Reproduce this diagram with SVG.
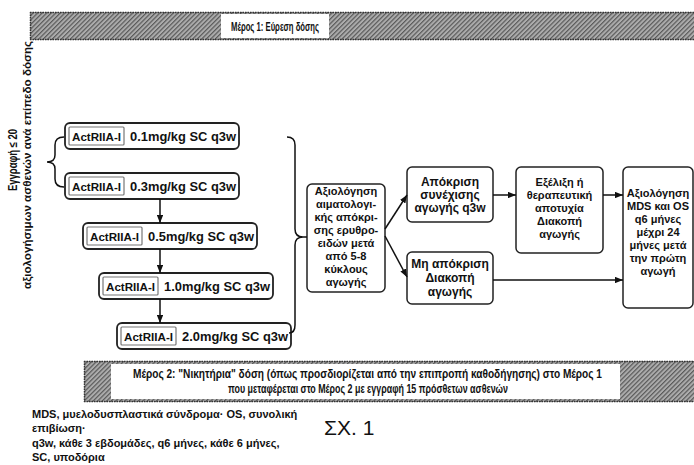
<svg xmlns="http://www.w3.org/2000/svg" width="694" height="465" viewBox="0 0 694 465">
<style>
text{font-family:"Liberation Sans",Arial,sans-serif;font-weight:bold;fill:#111}
.box{fill:#fff;stroke:#222;stroke-width:1.5}
.dose{fill:#fff;stroke:#222;stroke-width:1.8}
.tag{fill:#fff;stroke:#777;stroke-width:1.2}
.c{text-anchor:middle}
.t11{font-size:11px}
.t12{font-size:12px}
.line{stroke:#111;stroke-width:1.5;fill:none}
.edge{stroke:#333;stroke-width:1.5;stroke-dasharray:1.5 1;fill:none}
</style>
<defs>
<pattern id="hatch" width="3.2" height="3.2" patternUnits="userSpaceOnUse" patternTransform="rotate(45)">
<rect width="3.2" height="3.2" fill="#acacac"/>
<line x1="0.6" y1="0" x2="0.6" y2="3.2" stroke="#5a5a5a" stroke-width="1.2"/>
</pattern>
<marker id="ah" viewBox="0 0 10 8" refX="10" refY="4" markerWidth="8" markerHeight="6.4" markerUnits="userSpaceOnUse" orient="auto">
<path d="M0,0 L10,4 L0,8 z" fill="#111"/>
</marker>
</defs>
<rect width="694" height="465" fill="#fff"/>

<g id="banner1">
<rect x="30" y="12" width="670" height="28" fill="url(#hatch)"/>
<path class="edge" d="M30,12.5 H694 M30,39.5 H694 M30.5,12 V40"/>
<rect x="221" y="14" width="108" height="24" fill="#fff"/>
<text x="275" y="30.5" class="c" style="font-size:12.5px" textLength="88" lengthAdjust="spacingAndGlyphs">Μέρος 1: Εύρεση δόσης</text>
</g>

<g id="enrollment">
<text transform="translate(17,160) rotate(-90)" class="c t12" textLength="62" lengthAdjust="spacingAndGlyphs">Εγγραφή ≤ 20</text>
<text transform="translate(31,165) rotate(-90)" class="c t11" textLength="248" lengthAdjust="spacingAndGlyphs">αξιολογήσιμων ασθενών ανά επίπεδο δόσης</text>
</g>

<g id="dose1">
<rect class="dose" x="65" y="123" width="174" height="26" rx="5"/>
<rect class="tag" x="69" y="127" width="55" height="18" rx="1"/>
<text x="96.5" y="140.5" class="c t11" textLength="49" lengthAdjust="spacingAndGlyphs">ActRIIA-I</text>
<text x="130" y="141" style="font-size:13px" textLength="106" lengthAdjust="spacingAndGlyphs">0.1mg/kg SC q3w</text>
</g>
<g id="dose2">
<rect class="dose" x="65" y="173" width="174" height="26" rx="5"/>
<rect class="tag" x="69" y="177" width="55" height="18" rx="1"/>
<text x="96.5" y="190.5" class="c t11" textLength="49" lengthAdjust="spacingAndGlyphs">ActRIIA-I</text>
<text x="130" y="191" style="font-size:13px" textLength="106" lengthAdjust="spacingAndGlyphs">0.3mg/kg SC q3w</text>
</g>
<g id="dose3">
<rect class="dose" x="83" y="223" width="174" height="26" rx="5"/>
<rect class="tag" x="87" y="227" width="55" height="18" rx="1"/>
<text x="114.5" y="240.5" class="c t11" textLength="49" lengthAdjust="spacingAndGlyphs">ActRIIA-I</text>
<text x="148" y="241" style="font-size:13px" textLength="106" lengthAdjust="spacingAndGlyphs">0.5mg/kg SC q3w</text>
</g>
<g id="dose4">
<rect class="dose" x="99" y="273" width="174" height="26" rx="5"/>
<rect class="tag" x="103" y="277" width="55" height="18" rx="1"/>
<text x="130.5" y="290.5" class="c t11" textLength="49" lengthAdjust="spacingAndGlyphs">ActRIIA-I</text>
<text x="164" y="291" style="font-size:13px" textLength="106" lengthAdjust="spacingAndGlyphs">1.0mg/kg SC q3w</text>
</g>
<g id="dose5">
<rect class="dose" x="117" y="323" width="174" height="26" rx="5"/>
<rect class="tag" x="121" y="327" width="55" height="18" rx="1"/>
<text x="148.5" y="340.5" class="c t11" textLength="49" lengthAdjust="spacingAndGlyphs">ActRIIA-I</text>
<text x="182" y="341" style="font-size:13px" textLength="106" lengthAdjust="spacingAndGlyphs">2.0mg/kg SC q3w</text>
</g>

<g id="assess">
<rect class="box" x="307" y="184" width="78" height="108" rx="5"/>
<text class="c t11" x="346" y="195">Αξιολόγηση</text>
<text class="c t11" x="346" y="208">αιματολογι-</text>
<text class="c t11" x="346" y="221">κής απόκρι-</text>
<text class="c t11" x="346" y="234">σης ερυθρο-</text>
<text class="c t11" x="346" y="247">ειδών μετά</text>
<text class="c t11" x="346" y="260">από 5-8</text>
<text class="c t11" x="346" y="273">κύκλους</text>
<text class="c t11" x="346" y="286">αγωγής</text>
</g>

<g id="response">
<rect class="box" x="407" y="167" width="86" height="55" rx="5"/>
<text class="c t12" x="450" y="186">Απόκριση</text>
<text class="c t12" x="450" y="199">συνέχισης</text>
<text class="c t12" x="450" y="212">αγωγής q3w</text>
</g>

<g id="noresponse">
<rect class="box" x="407" y="252" width="86" height="52" rx="5"/>
<text class="c t12" x="450" y="268">Μη απόκριση</text>
<text class="c t12" x="450" y="282">Διακοπή</text>
<text class="c t12" x="450" y="296">αγωγής</text>
</g>

<g id="progression">
<rect class="box" x="516" y="167" width="87" height="86" rx="5"/>
<text class="c t11" x="559.5" y="186">Εξέλιξη ή</text>
<text class="c t11" x="559.5" y="199">θεραπευτική</text>
<text class="c t11" x="559.5" y="212">αποτυχία</text>
<text class="c t11" x="559.5" y="225">Διακοπή</text>
<text class="c t11" x="559.5" y="238">αγωγής</text>
</g>

<g id="followup">
<rect class="box" x="623" y="167" width="70" height="141" rx="5"/>
<text class="c t11" x="658" y="197">Αξιολόγηση</text>
<text class="c t11" x="658" y="210">MDS και OS</text>
<text class="c t11" x="658" y="223">q6 μήνες</text>
<text class="c t11" x="658" y="236">μέχρι 24</text>
<text class="c t11" x="658" y="249">μήνες μετά</text>
<text class="c t11" x="658" y="262">την πρώτη</text>
<text class="c t11" x="658" y="275">αγωγή</text>
</g>

<g id="connectors">
<path class="line" d="M64,137 Q55,137 55,145 L55,155 Q55,162 47,162 Q55,162 55,169 L55,179 Q55,187 64,187"/>
<path class="line" d="M287,137 Q295,137 295,145 L295,229 Q295,237 303,237 Q295,237 295,245 L295,325 Q295,333 289,333 M303,237 H307"/>
<line class="line" x1="160" y1="199" x2="160" y2="223" marker-end="url(#ah)"/>
<line class="line" x1="160" y1="249" x2="160" y2="273" marker-end="url(#ah)"/>
<line class="line" x1="160" y1="299" x2="160" y2="323" marker-end="url(#ah)"/>
<line class="line" x1="385" y1="229" x2="407" y2="195" marker-end="url(#ah)"/>
<line class="line" x1="385" y1="236" x2="407" y2="277" marker-end="url(#ah)"/>
<line class="line" x1="493" y1="195" x2="516" y2="195" marker-end="url(#ah)"/>
<line class="line" x1="603" y1="195" x2="623" y2="195" marker-end="url(#ah)"/>
<line class="line" x1="493" y1="280" x2="623" y2="280" marker-end="url(#ah)"/>
</g>

<g id="banner2">
<rect x="84" y="361" width="616" height="41" fill="url(#hatch)"/>
<path class="edge" d="M84,361.5 H694 M84,401.5 H694 M84.5,361 V402"/>
<rect x="111" y="364" width="509" height="35" fill="#fff"/>
<text class="c" style="font-size:12px" x="367.5" y="377.5" textLength="469" lengthAdjust="spacingAndGlyphs">Μέρος 2: "Νικητήρια" δόση (όπως προσδιορίζεται από την επιπροπή καθοδήγησης) στο Μέρος 1</text>
<text class="c" style="font-size:12px" x="368" y="393" textLength="280" lengthAdjust="spacingAndGlyphs">που μεταφέρεται στο Μέρος 2 με εγγραφή 15 πρόσθετων ασθενών</text>
</g>

<g id="footnote">
<text x="32" y="418" style="font-size:11px">MDS, μυελοδυσπλαστικά σύνδρομα· OS, συνολική</text>
<text x="32" y="432" style="font-size:11px">επιβίωση·</text>
<text x="32" y="447" style="font-size:11px">q3w, κάθε 3 εβδομάδες, q6 μήνες, κάθε 6 μήνες,</text>
<text x="32" y="461" style="font-size:11px">SC, υποδόρια</text>
<text x="324" y="435" style="font-size:21px;font-weight:normal">ΣΧ. 1</text>
</g>
</svg>
